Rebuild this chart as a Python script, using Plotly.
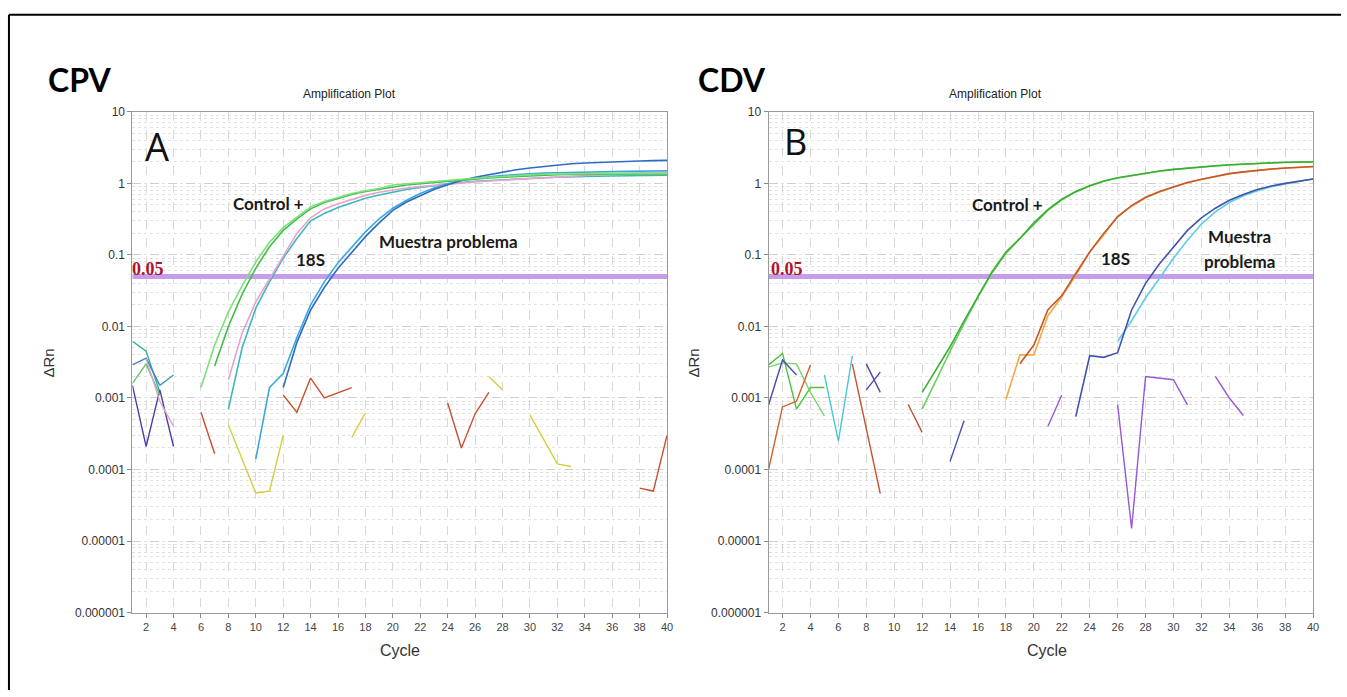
import plotly.graph_objects as go

# ---------------- data ----------------
X_TICKS = list(range(2, 41, 2))
Y_TICK_VALUES = [1e-6, 1e-5, 1e-4, 1e-3, 1e-2, 1e-1, 1, 10]
Y_TICK_TEXT = ["0.000001", "0.00001", "0.0001", "0.001", "0.01", "0.1", "1", "10"]
THRESHOLD = 0.05

# CPV amplification curves (start cycle, values at consecutive cycles)
cpv_control1_start = 6
cpv_control1 = [0.0014, 0.0055, 0.016, 0.037, 0.08, 0.15, 0.24, 0.34, 0.47, 0.56, 0.64, 0.72, 0.79, 0.85,
                0.95, 0.99, 1.02, 1.06, 1.1, 1.14, 1.18, 1.22, 1.26, 1.29, 1.32, 1.34, 1.36, 1.37, 1.37,
                1.38, 1.38, 1.38, 1.37, 1.37, 1.37]
cpv_control2_start = 7
cpv_control2 = [0.0028, 0.01, 0.028, 0.065, 0.13, 0.22, 0.32, 0.44, 0.54, 0.62, 0.7, 0.77, 0.83, 0.9,
                0.95, 0.99, 1.03, 1.07, 1.11, 1.15, 1.19, 1.22, 1.25, 1.28, 1.3, 1.32, 1.33, 1.34, 1.34,
                1.34, 1.34, 1.34, 1.33, 1.33]
cpv_18s_pink_start = 8
cpv_18s_pink = [0.0018, 0.008, 0.022, 0.046, 0.1, 0.2, 0.33, 0.44, 0.52, 0.6, 0.68, 0.75, 0.81, 0.86,
                0.9, 0.94, 0.98, 1.02, 1.05, 1.08, 1.11, 1.14, 1.17, 1.2, 1.23, 1.26, 1.29, 1.32, 1.35,
                1.38, 1.4, 1.42, 1.44]
cpv_18s_teal_start = 8
cpv_18s_teal = [0.0007, 0.005, 0.018, 0.042, 0.09, 0.17, 0.3, 0.38, 0.46, 0.54, 0.62, 0.69, 0.76, 0.82,
                0.88, 0.93, 0.98, 1.03, 1.07, 1.1, 1.13, 1.16, 1.18, 1.2, 1.22, 1.24, 1.25, 1.26, 1.27,
                1.28, 1.29, 1.3, 1.3]
cpv_sample_blue_start = 12
cpv_sample_blue = [0.0014, 0.006, 0.017, 0.035, 0.065, 0.11, 0.18, 0.28, 0.42, 0.55, 0.68, 0.82, 0.96,
                   1.1, 1.22, 1.33, 1.45, 1.55, 1.64, 1.72, 1.82, 1.88, 1.93, 1.97, 2.0, 2.03, 2.06,
                   2.08, 2.1]
cpv_sample_cyan_start = 10
cpv_sample_cyan = [0.00014, 0.0014, 0.0022, 0.007, 0.02, 0.042, 0.078, 0.13, 0.21, 0.32, 0.45, 0.58,
                   0.72, 0.86, 0.99, 1.1, 1.18, 1.24, 1.29, 1.33, 1.36, 1.39, 1.41, 1.43, 1.44, 1.45,
                   1.46, 1.47, 1.48, 1.49, 1.5]

# CPV baseline noise segments: (color, cycles, values)
cpv_noise = [
    ("#30b0a0", [1, 2, 3], [0.0062, 0.0045, 0.0012]),
    ("#4a3fa8", [1, 2, 3, 4], [0.0015, 0.00021, 0.0013, 0.00021]),
    ("#4a7fc0", [1, 2, 3], [0.0029, 0.0036, 0.0015]),
    ("#3aa0b8", [3, 4], [0.0015, 0.0021]),
    ("#60c860", [1, 2, 3], [0.0016, 0.003, 0.0011]),
    ("#d8a8cc", [2, 3, 4], [0.0035, 0.0009, 0.0004]),
    ("#c8502e", [6, 7], [0.00063, 0.000166]),
    ("#d8cc3c", [8, 10, 11, 12], [0.00042, 0.000047, 0.00005, 0.0003]),
    ("#c8502e", [12, 13, 14, 15, 17], [0.0011, 0.00063, 0.0019, 0.001, 0.0014]),
    ("#d8cc3c", [17, 18], [0.00028, 0.00062]),
    ("#c8502e", [24, 25, 26, 27], [0.00085, 0.0002, 0.0006, 0.0012]),
    ("#d8cc3c", [27, 28], [0.002, 0.0013]),
    ("#d8cc3c", [30, 31, 32, 33], [0.00058, 0.00026, 0.00012, 0.00011]),
    ("#c8502e", [38, 39, 40], [0.000055, 0.00005, 0.0003]),
]

# CDV amplification curves
cdv_control1_start = 12
cdv_control1 = [0.0012, 0.0025, 0.0052, 0.012, 0.027, 0.058, 0.11, 0.17, 0.28, 0.43, 0.6, 0.77, 0.93,
                1.08, 1.2, 1.3, 1.4, 1.49, 1.57, 1.64, 1.7, 1.76, 1.82, 1.87, 1.91, 1.94, 1.97, 1.99,
                2.01]
cdv_control2_start = 12
cdv_control2 = [0.0007, 0.0018, 0.0045, 0.011, 0.026, 0.056, 0.105, 0.17, 0.27, 0.42, 0.59, 0.76, 0.92,
                1.07, 1.19, 1.29, 1.39, 1.48, 1.56, 1.63, 1.69, 1.75, 1.81, 1.86, 1.9, 1.93, 1.96, 1.98,
                2.0]
cdv_18s_orange_start = 18
cdv_18s_orange = [0.00095, 0.004, 0.004, 0.014, 0.026, 0.052, 0.11, 0.19, 0.35, 0.48, 0.63, 0.76, 0.89,
                  1.02, 1.13, 1.25, 1.36, 1.44, 1.52, 1.58, 1.63, 1.67, 1.71]
cdv_18s_brown_start = 19
cdv_18s_brown = [0.003, 0.0055, 0.017, 0.027, 0.055, 0.11, 0.2, 0.34, 0.49, 0.64, 0.77, 0.9, 1.03,
                 1.14, 1.26, 1.37, 1.45, 1.53, 1.59, 1.64, 1.68, 1.72]
cdv_sample_navy_start = 23
cdv_sample_navy = [0.00055, 0.0039, 0.0037, 0.0043, 0.017, 0.04, 0.075, 0.13, 0.22, 0.33, 0.45, 0.58,
                   0.7, 0.82, 0.92, 1.0, 1.08, 1.15]
cdv_sample_cyan_start = 26
cdv_sample_cyan = [0.0062, 0.012, 0.025, 0.047, 0.09, 0.16, 0.27, 0.4, 0.54, 0.67, 0.79, 0.9, 0.99,
                   1.07, 1.15]

cdv_noise = [
    ("#4cc43c", [1, 2, 3, 4, 5], [0.0029, 0.0042, 0.0007, 0.0014, 0.0014]),
    ("#7ad46a", [1, 2, 3, 4, 5], [0.0027, 0.0031, 0.003, 0.0012, 0.00056]),
    ("#4a50b0", [1, 2, 3], [0.0008, 0.0034, 0.0021]),
    ("#d0602e", [1, 2, 3, 4], [0.0001, 0.00075, 0.0009, 0.0029]),
    ("#48c8d8", [5, 6, 7], [0.0021, 0.00025, 0.0039]),
    ("#c8502e", [7, 9], [0.003, 0.000046]),
    ("#5048b0", [8, 9], [0.003, 0.0012]),
    ("#5048b0", [8, 9], [0.0013, 0.0023]),
    ("#c8502e", [11, 12], [0.00081, 0.00033]),
    ("#4a50b0", [14, 15], [0.00013, 0.00048]),
    ("#9458d8", [21, 22], [0.0004, 0.0011]),
    ("#9458d8", [26, 27, 28, 30, 31], [0.0008, 0.000015, 0.002, 0.0018, 0.0008]),
    ("#9458d8", [33, 34, 35], [0.002, 0.001, 0.00057]),
]

# ---------------- layout helpers ----------------
FW, FH = 1347, 697     # figure size (pinned to the window's top-left corner)


def px(x):
    return x / FW


def py(y):
    return 1 - y / FH


def cycles(start, vals):
    return list(range(start, start + len(vals)))


fig = go.Figure()


def add_line(x, y, color, axis, width=1.6):
    xa, ya = axis
    fig.add_trace(go.Scatter(x=x, y=y, mode="lines", line=dict(color=color, width=width),
                             xaxis=xa, yaxis=ya, showlegend=False, hoverinfo="skip"))


# threshold lines
for ax in [("x", "y"), ("x2", "y2")]:
    add_line([1, 40], [THRESHOLD, THRESHOLD], "#c59de9", ax, width=5)

# CPV
A = ("x", "y")
for col, xs, ys in cpv_noise:
    add_line(xs, ys, col, A, 1.4)
add_line(cycles(cpv_18s_teal_start, cpv_18s_teal), cpv_18s_teal, "#3cb8c0", A)
add_line(cycles(cpv_18s_pink_start, cpv_18s_pink), cpv_18s_pink, "#e8a2cf", A)
add_line(cycles(cpv_sample_cyan_start, cpv_sample_cyan), cpv_sample_cyan, "#3aa8dc", A)
add_line(cycles(cpv_sample_blue_start, cpv_sample_blue), cpv_sample_blue, "#2e6cc4", A)
add_line(cycles(cpv_control2_start, cpv_control2), cpv_control2, "#3fbf4a", A)
add_line(cycles(cpv_control1_start, cpv_control1), cpv_control1, "#7ee07a", A)

# CDV
B = ("x2", "y2")
for col, xs, ys in cdv_noise:
    add_line(xs, ys, col, B, 1.4)
add_line(cycles(cdv_sample_cyan_start, cdv_sample_cyan), cdv_sample_cyan, "#62cbe8", B)
add_line(cycles(cdv_sample_navy_start, cdv_sample_navy), cdv_sample_navy, "#3e56aa", B)
add_line(cycles(cdv_18s_orange_start, cdv_18s_orange), cdv_18s_orange, "#f2a845", B)
add_line(cycles(cdv_18s_brown_start, cdv_18s_brown), cdv_18s_brown, "#c4582c", B)
add_line(cycles(cdv_control2_start, cdv_control2), cdv_control2, "#66d05a", B)
add_line(cycles(cdv_control1_start, cdv_control1), cdv_control1, "#3cae34", B)

xaxis_common = dict(range=[1, 40], tickvals=X_TICKS, ticks="outside", ticklen=4,
                    tickcolor="#888", showline=True, linecolor="#9a9a9a", mirror=True,
                    showgrid=True, gridcolor="#d8d8d8", griddash="dash", gridwidth=1,
                    zeroline=False, tickfont=dict(family="Liberation Sans", size=11, color="#444"))
yaxis_common = dict(type="log", range=[-6, 1], tickvals=Y_TICK_VALUES, ticktext=Y_TICK_TEXT,
                    ticks="outside", ticklen=4, tickcolor="#888", showline=True,
                    linecolor="#9a9a9a", mirror=True, showgrid=True, gridcolor="#cfcfcf",
                    griddash="dash", zeroline=False,
                    minor=dict(dtick="D1", showgrid=True, gridcolor="#e2e2e2", griddash="dot",
                               ticks=""),
                    tickfont=dict(family="Liberation Sans", size=12, color="#333"))

fig.update_layout(
    width=FW, height=FH, margin=dict(l=0, r=0, t=0, b=0),
    paper_bgcolor="white", plot_bgcolor="white",
    xaxis=dict(domain=[px(133), px(670)], anchor="y", **xaxis_common),
    yaxis=dict(domain=[py(618), py(107)], anchor="x", **yaxis_common),
    xaxis2=dict(domain=[px(772), px(1319)], anchor="y2", **xaxis_common),
    yaxis2=dict(domain=[py(618), py(107)], anchor="x2", **yaxis_common),
)

ann = []


def note(text, x, y, size, family="Liberation Sans", color="#222", xanchor="center", angle=0):
    ann.append(dict(text=text, x=px(x), y=py(y), xref="paper", yref="paper", showarrow=False,
                    xanchor=xanchor, yanchor="middle", textangle=angle,
                    font=dict(family=family, size=size, color=color)))


note("<b>CPV</b>", 80, 74, 32, family="Lato", color="#000")
note("<b>CDV</b>", 735, 74, 32, family="Lato", color="#000")
note("Amplification Plot", 351, 89, 12)
note("Amplification Plot", 1000, 89, 12)
note("A", 158, 142, 38, family="Open Sans", color="#111")
note("B", 799, 137, 36, family="Open Sans", color="#111")
note("<b>Control +</b>", 270, 201, 17, family="Lato", color="#1a1a1a")
note("<b>18S</b>", 312, 258, 17, family="Lato", color="#1a1a1a")
note("<b>Muestra problema</b>", 451, 239, 17, family="Lato", color="#1a1a1a")
note("<b>Control +</b>", 1012, 202, 17, family="Lato", color="#1a1a1a")
note("<b>18S</b>", 1120, 257, 17, family="Lato", color="#1a1a1a")
note("<b>Muestra</b>", 1245, 234, 17, family="Lato", color="#1a1a1a")
note("<b>problema</b>", 1245, 260, 17, family="Lato", color="#1a1a1a")
note("<b>0.05</b>", 131, 267, 18, family="Liberation Serif", color="#b0142a", xanchor="left")
note("<b>0.05</b>", 772, 267, 18, family="Liberation Serif", color="#b0142a", xanchor="left")
note("ΔRn", 49, 363, 15, color="#333", angle=-90)
note("ΔRn", 697, 363, 15, color="#333", angle=-90)
note("Cycle", 402, 657, 16, color="#333")
note("Cycle", 1052, 657, 16, color="#333")
fig.update_layout(annotations=ann)

# outer frame: only the top and left edges are visible in the original
fig.add_shape(type="line", xref="paper", yref="paper", x0=px(9), x1=1.0, y0=py(8), y1=py(8),
              line=dict(color="black", width=2))
fig.add_shape(type="line", xref="paper", yref="paper", x0=px(9), x1=px(9), y0=0.0, y1=py(8),
              line=dict(color="black", width=2))

PIN_TO_CORNER = (
    "document.documentElement.style.overflow='hidden';"
    "document.body.style.margin='0';document.body.style.overflow='hidden';"
    "var gd=document.getElementById('{plot_id}');"
    "gd.style.position='fixed';gd.style.left='0px';gd.style.top='0px';"
)

fig.write_html("out.html", post_script=PIN_TO_CORNER,
               config={"displayModeBar": False, "responsive": False})
